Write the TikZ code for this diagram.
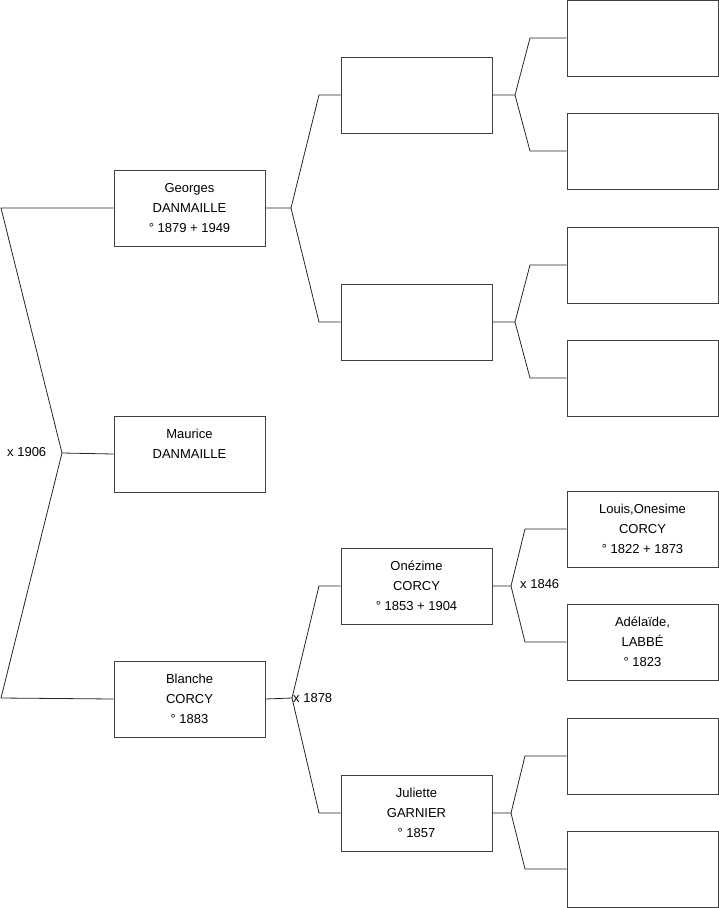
\documentclass[tikz,border=0pt]{standalone}
\usepackage{fontspec}
\setmainfont{Liberation Sans}
\begin{document}
\begin{tikzpicture}[x=1pt, y=-1pt,
      box/.style={rectangle,draw=black!75,line width=0.8pt,minimum width=151pt,minimum height=76pt,inner sep=0pt,align=center,font=\fontsize{13}{20}\selectfont},
      link/.style={draw=black!85,line width=0.8pt},
      marriage/.style={anchor=west,inner sep=0pt,font=\fontsize{13}{15}\selectfont}
    ]
      \useasboundingbox (0,0) rectangle (719,908);

      % Generation 1
      \node[box] (georges) at (189.5,208) {Georges\\DANMAILLE\\° 1879 + 1949};
      \node[box] (maurice) at (189.5,454) {Maurice\\DANMAILLE\\~};
      \node[box] (blanche) at (189.5,699) {Blanche\\CORCY\\° 1883};

      % Generation 2
      \node[box] (pa) at (416.5,95)  {};
      \node[box] (pb) at (416.5,322) {};
      \node[box] (onezime) at (416.5,586)  {Onézime\\CORCY\\° 1853 + 1904};
      \node[box] (juliette) at (416.5,813) {Juliette\\GARNIER\\° 1857};

      % Generation 3
      \node[box] (ga) at (642.5,38)  {};
      \node[box] (gb) at (642.5,151) {};
      \node[box] (gc) at (642.5,265) {};
      \node[box] (gd) at (642.5,378) {};
      \node[box] (louis) at (642.5,529) {Louis,Onesime\\CORCY\\° 1822 + 1873};
      \node[box] (adelaide) at (642.5,642) {Adélaïde,\\LABBÉ\\° 1823};
      \node[box] (ge) at (642.5,756) {};
      \node[box] (gf) at (642.5,869) {};

      % forks
      \coordinate (k0a) at (1,208);
      \coordinate (f0) at (62,453);
      \coordinate (k0b) at (1,698);
      \draw[link] (georges.west) -- (k0a) -- (f0) -- (k0b) -- (blanche.west);
      \draw[link] (f0) -- (maurice.west);
      \node[marriage] (m0) at (7,452) {x 1906};

      \coordinate (f1) at (291,208); \coordinate (k1a) at (319,95); \coordinate (k1b) at (319,322);
      \draw[link] (georges.east) -- (f1) -- (k1a) -- (pa.west);
      \draw[link] (f1) -- (k1b) -- (pb.west);

      \coordinate (f2) at (292,698); \coordinate (k2a) at (319,586); \coordinate (k2b) at (319,813);
      \draw[link] (blanche.east) -- (f2) -- (k2a) -- (onezime.west);
      \draw[link] (f2) -- (k2b) -- (juliette.west);
      \node[marriage] (m2) at (293,698) {x 1878};

      \coordinate (f3) at (515,95); \coordinate (k3a) at (530,38); \coordinate (k3b) at (530,151);
      \draw[link] (pa.east) -- (f3) -- (k3a) -- (ga.west);
      \draw[link] (f3) -- (k3b) -- (gb.west);

      \coordinate (f4) at (515,322); \coordinate (k4a) at (530,265); \coordinate (k4b) at (530,378);
      \draw[link] (pb.east) -- (f4) -- (k4a) -- (gc.west);
      \draw[link] (f4) -- (k4b) -- (gd.west);

      \coordinate (f5) at (511,586); \coordinate (k5a) at (525,529); \coordinate (k5b) at (525,642);
      \draw[link] (onezime.east) -- (f5) -- (k5a) -- (louis.west);
      \draw[link] (f5) -- (k5b) -- (adelaide.west);
      \node[marriage] (m5) at (520,584) {x 1846};

      \coordinate (f6) at (511,813); \coordinate (k6a) at (525,756); \coordinate (k6b) at (525,869);
      \draw[link] (juliette.east) -- (f6) -- (k6a) -- (ge.west);
      \draw[link] (f6) -- (k6b) -- (gf.west);
    \end{tikzpicture}
\end{document}
